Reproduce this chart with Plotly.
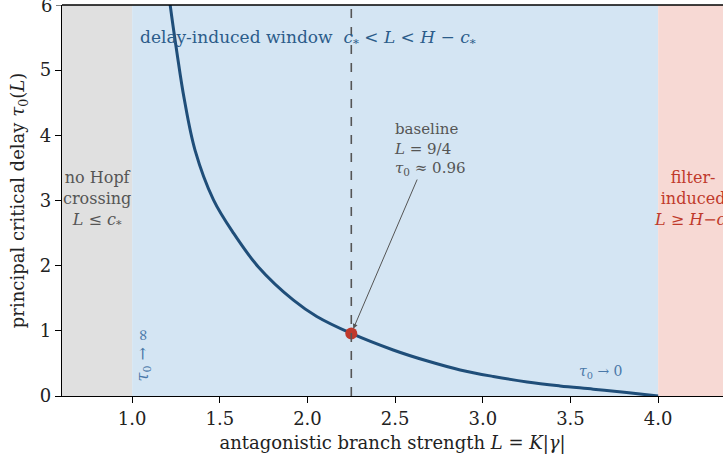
import plotly.graph_objects as go

# ---- data ----
L_curve = [1.19, 1.217, 1.255, 1.297, 1.359, 1.464, 1.578, 1.720, 1.920, 2.053, 2.25,
           2.489, 2.68, 2.871, 3.06, 3.253, 3.44, 3.63, 3.82, 4.0]
tau_curve = [6.6, 6.0, 5.28, 4.56, 3.77, 3.01, 2.50, 1.98, 1.47, 1.22, 0.96,
             0.706, 0.54, 0.40, 0.30, 0.215, 0.155, 0.105, 0.052, 0.0]

c_star = 1.0            # lower boundary of delay-induced window
H_minus_c = 4.0         # upper boundary (H - c*)
L_base = 2.25
tau_base = 0.96

x_range = [0.6, 4.37]
y_range = [0, 6]
x_ticks = [1.0, 1.5, 2.0, 2.5, 3.0, 3.5, 4.0]
x_ticklabels = ["1.0", "1.5", "2.0", "2.5", "3.0", "3.5", "4.0"]
y_ticks = [0, 1, 2, 3, 4, 5, 6]
y_ticklabels = ["0", "1", "2", "3", "4", "5", "6"]

FONT = "DejaVu Serif"
curve_col = "#1f4e79"
label_blue = "#2b5c8a"
light_blue = "#4a78a8"
grey_txt = "#555555"
red = "#c0392b"

fig = go.Figure()

shapes = [
    dict(type="rect", xref="x", yref="y", x0=0.6, x1=c_star, y0=y_range[0], y1=y_range[1],
         fillcolor="#e0e0e0", line_width=0, layer="below"),
    dict(type="rect", xref="x", yref="y", x0=c_star, x1=H_minus_c, y0=y_range[0], y1=y_range[1],
         fillcolor="#d4e5f3", line_width=0, layer="below"),
    dict(type="rect", xref="x", yref="y", x0=H_minus_c, x1=4.4, y0=y_range[0], y1=y_range[1],
         fillcolor="#f7d9d4", line_width=0, layer="below"),
    dict(type="line", xref="x", yref="y", x0=L_base, x1=L_base, y0=y_range[0], y1=y_range[1],
         line=dict(color=grey_txt, width=1.6, dash="dash")),
    dict(type="line", xref="paper", yref="paper", x0=0, x1=1, y0=1, y1=1,
         line=dict(color="black", width=1.3)),
]

fig.add_trace(go.Scatter(x=L_curve, y=tau_curve, mode="lines", line_shape="spline",
                         line=dict(color=curve_col, width=3), showlegend=False, hoverinfo="skip"))
fig.add_trace(go.Scatter(x=[L_base], y=[tau_base], mode="markers",
                         marker=dict(color=red, size=12), showlegend=False, hoverinfo="skip"))

annotations = [
    dict(x=1.034, y=5.49, xref="x", yref="y", xanchor="left", yanchor="middle", showarrow=False,
         text="delay-induced window  <i>c</i><sub>*</sub> &lt; <i>L</i> &lt; <i>H</i> − <i>c</i><sub>*</sub>",
         font=dict(family=FONT, size=17, color=label_blue)),
    dict(x=0.8, y=3.02, xref="x", yref="y", xanchor="center", yanchor="middle", showarrow=False,
         text="no Hopf<br>crossing<br><i>L</i> ≤ <i>c</i><sub>*</sub>", align="center",
         font=dict(family=FONT, size=16, color=grey_txt)),
    dict(x=4.2, y=3.02, xref="x", yref="y", xanchor="center", yanchor="middle", showarrow=False,
         text="filter-<br>induced<br><i>L</i> ≥ <i>H</i>−<i>c</i><sub>*</sub>", align="center",
         font=dict(family=FONT, size=16, color=red)),
    dict(x=L_base, y=tau_base, xref="x", yref="y", ax=2.70, ay=3.79, axref="x", ayref="y",
         text="baseline<br><i>L</i> = 9/4<br><i>τ</i><sub>0</sub> ≈ 0.96", align="left",
         showarrow=True, arrowhead=2, arrowsize=1, arrowwidth=1, arrowcolor=grey_txt, standoff=5,
         font=dict(family=FONT, size=15, color=grey_txt)),
    dict(x=1.065, y=0.63, xref="x", yref="y", xanchor="center", yanchor="middle", showarrow=False,
         text="<i>τ</i><sub>0</sub> → ∞", textangle=-90,
         font=dict(family=FONT, size=16, color=light_blue)),
    dict(x=3.675, y=0.37, xref="x", yref="y", xanchor="center", yanchor="middle", showarrow=False,
         text="<i>τ</i><sub>0</sub> → 0",
         font=dict(family=FONT, size=14, color=light_blue)),
    # top tick label (partially cut at the figure edge, as in the reference)
    dict(x=0, y=1, xref="paper", yref="paper", xanchor="right", yanchor="middle", xshift=-8,
         showarrow=False, text="6", font=dict(family=FONT, size=18, color="#222222")),
]

fig.update_layout(
    width=723, height=458,
    margin=dict(l=62, r=0, t=5, b=62),
    paper_bgcolor="white", plot_bgcolor="white",
    shapes=shapes, annotations=annotations,
    font=dict(family=FONT, size=17, color="#222222"),
    xaxis=dict(range=x_range, tickvals=x_ticks, ticktext=x_ticklabels, ticks="outside",
               ticklen=6, tickwidth=1, tickcolor="black", showline=True, linecolor="black",
               linewidth=1.3, showgrid=False, zeroline=False,
               tickfont=dict(family=FONT, size=18, color="#222222"),
               title=dict(text="antagonistic branch strength <i>L</i> = <i>K</i>|<i>γ</i>|",
                          font=dict(family=FONT, size=18, color="#222222"), standoff=8)),
    yaxis=dict(range=y_range, tickvals=y_ticks[:-1], ticktext=y_ticklabels[:-1], ticks="outside",
               ticklen=6, tickwidth=1, tickcolor="black", showline=True, linecolor="black",
               linewidth=1.3, showgrid=False, zeroline=False,
               tickfont=dict(family=FONT, size=18, color="#222222"),
               title=dict(text="principal critical delay <i>τ</i><sub>0</sub>(<i>L</i>)",
                          font=dict(family=FONT, size=18, color="#222222"), standoff=10)),
)
# tick mark at the top value (label drawn as annotation above)
fig.add_shape(type="line", xref="paper", yref="y", x0=-0.0091, x1=0, y0=y_ticks[-1], y1=y_ticks[-1],
              line=dict(color="black", width=1))

fig.write_html("out.html")
